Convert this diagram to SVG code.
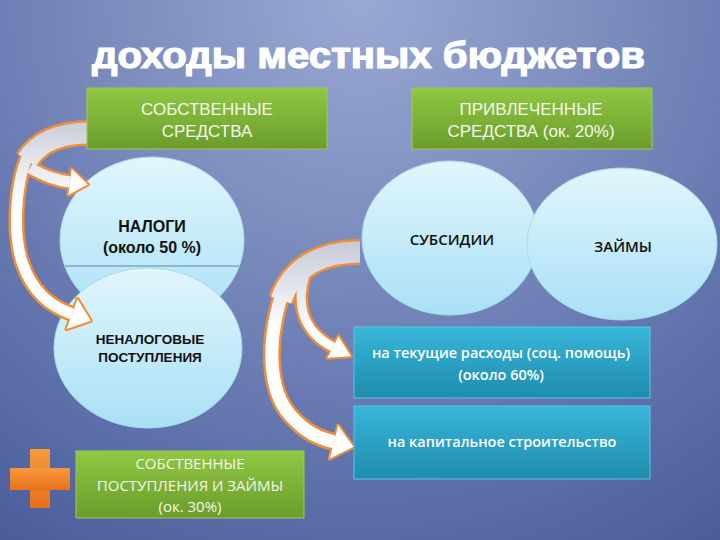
<svg xmlns="http://www.w3.org/2000/svg" width="720" height="540" viewBox="0 0 720 540">
<style>
.title{font-family:"Liberation Sans",Arial,sans-serif;font-weight:bold;font-size:36px;fill:#ffffff;stroke:#ffffff;stroke-width:1.2}
.gtxt{font-family:"Liberation Sans",Arial,sans-serif;font-size:17px;fill:#f4f8ec;text-anchor:middle}
.gtxt2{font-family:"Open Sans","Liberation Sans",sans-serif;font-size:15px;fill:#f2f7ea;text-anchor:middle}
.ctxt{font-family:"Liberation Sans",Arial,sans-serif;font-weight:bold;fill:#111111;text-anchor:middle}
.ctxt2{font-family:"Open Sans","Liberation Sans",sans-serif;font-weight:600;font-size:15px;fill:#111111;text-anchor:middle}
.ttxt{font-family:"Open Sans","Liberation Sans",sans-serif;font-weight:600;font-size:14.5px;fill:#ffffff;text-anchor:middle}
.gbox{fill:url(#green);stroke:#9ccb55;stroke-width:1}
.tbox{fill:url(#teal);stroke:#5cc6e6;stroke-width:1}
.circ{fill:url(#cyan);stroke:#a6dcef;stroke-width:1}
.ol{fill:none;stroke:#f08c3a;stroke-linecap:butt}
.olh{fill:#f08c3a;stroke:#f08c3a;stroke-width:4;stroke-linejoin:round}
</style>
<defs>
<radialGradient id="bg" cx="360" cy="0" r="640" gradientUnits="userSpaceOnUse">
<stop offset="0" stop-color="#9aa9d3"/>
<stop offset="1" stop-color="#4a5e9c"/>
</radialGradient>
<linearGradient id="green" x1="0" y1="0" x2="0" y2="1">
<stop offset="0" stop-color="#90c843"/>
<stop offset="1" stop-color="#6b9c2c"/>
</linearGradient>
<linearGradient id="teal" x1="0" y1="0" x2="0" y2="1">
<stop offset="0" stop-color="#38b6d9"/>
<stop offset="1" stop-color="#1f8cad"/>
</linearGradient>
<linearGradient id="cyan" x1="0" y1="0" x2="0" y2="1">
<stop offset="0" stop-color="#e2f6fc"/>
<stop offset="1" stop-color="#a9e0f6"/>
</linearGradient>
<linearGradient id="orange" x1="0" y1="0" x2="0" y2="1">
<stop offset="0" stop-color="#f69a3e"/>
<stop offset="1" stop-color="#e8701a"/>
</linearGradient>
<linearGradient id="fillL" x1="0" y1="120" x2="0" y2="200" gradientUnits="userSpaceOnUse">
<stop offset="0" stop-color="#c9ccd8"/>
<stop offset="1" stop-color="#ffffff"/>
</linearGradient>
<linearGradient id="fillR" x1="0" y1="245" x2="0" y2="330" gradientUnits="userSpaceOnUse">
<stop offset="0" stop-color="#c9ccd8"/>
<stop offset="1" stop-color="#ffffff"/>
</linearGradient>
</defs>

<rect x="0" y="0" width="720" height="540" fill="url(#bg)"/>

<text class="title" x="92" y="68" textLength="553" lengthAdjust="spacingAndGlyphs">доходы местных бюджетов</text>

<g id="node-nalogi">
<ellipse class="circ" cx="152" cy="240" rx="92" ry="83"/>
<line x1="65" y1="266" x2="239" y2="266" stroke="#5a8aa8" stroke-width="1"/>
<text class="ctxt" x="152" y="232" font-size="16">НАЛОГИ</text>
<text class="ctxt" x="152" y="253" font-size="16">(около 50 %)</text>
</g>
<g id="node-nenalog">
<ellipse class="circ" cx="148" cy="348" rx="94" ry="80"/>
<text class="ctxt" x="150" y="344" font-size="13.5">НЕНАЛОГОВЫЕ</text>
<text class="ctxt" x="150" y="362" font-size="13.5">ПОСТУПЛЕНИЯ</text>
</g>
<g id="node-subsidii">
<ellipse class="circ" cx="450" cy="238" rx="88" ry="77"/>
<text class="ctxt2" x="452" y="245">СУБСИДИИ</text>
</g>
<g id="node-zaimy">
<ellipse class="circ" cx="622" cy="244" rx="95" ry="76"/>
<text class="ctxt2" x="623" y="252">ЗАЙМЫ</text>
</g>

<g id="connectors">
<path class="ol" stroke-width="26" d="M95 133 C62 132 40 140 27 160"/>
<path class="ol" stroke-width="16" d="M31 150 C16 175 12 230 22 262 C32 292 50 306 72 314"/>
<path class="ol" stroke-width="16" d="M30 168 C45 176 55 180 70 182"/>
<polygon class="olh" points="66.5,329 77.5,299 90.8,320.8"/>
<polygon class="olh" points="68.3,194.9 71.7,169.1 87.8,184.4"/>
<path class="ol" stroke-width="26" d="M360 252 C320 252 292 268 281 300"/>
<path class="ol" stroke-width="18" d="M284 288 C266 340 268 390 290 415 C305 432 318 438 334 442"/>
<path class="ol" stroke-width="14" d="M306 272 C296 300 300 330 333 347"/>
<polygon class="olh" points="329.9,458.5 338.1,425.5 353.4,446.8"/>
<polygon class="olh" points="327.5,357.7 338.5,336.3 350.8,356.2"/>
<polygon fill="#ffffff" points="66.5,329 77.5,299 90.8,320.8"/>
<polygon fill="#ffffff" points="68.3,194.9 71.7,169.1 87.8,184.4"/>
<path fill="none" stroke="url(#fillL)" stroke-width="21" d="M95 133 C62 132 40 140 27 160"/>
<path fill="none" stroke="url(#fillL)" stroke-width="11" d="M31 150 C16 175 12 230 22 262 C32 292 50 306 72 314"/>
<path fill="none" stroke="url(#fillL)" stroke-width="11" d="M30 168 C45 176 55 180 70 182"/>
<polygon fill="#ffffff" points="329.9,458.5 338.1,425.5 353.4,446.8"/>
<polygon fill="#ffffff" points="327.5,357.7 338.5,336.3 350.8,356.2"/>
<path fill="none" stroke="url(#fillR)" stroke-width="21" d="M360 252 C320 252 292 268 281 300"/>
<path fill="none" stroke="url(#fillR)" stroke-width="13" d="M284 288 C266 340 268 390 290 415 C305 432 318 438 334 442"/>
<path fill="none" stroke="url(#fillR)" stroke-width="9" d="M306 272 C296 300 300 330 333 347"/>
</g>

<g id="node-sobstv">
<rect class="gbox" x="87" y="88" width="240" height="61"/>
<text class="gtxt" x="207" y="115">СОБСТВЕННЫЕ</text>
<text class="gtxt" x="207" y="137">СРЕДСТВА</text>
</g>
<g id="node-privl">
<rect class="gbox" x="412" y="88" width="240" height="61"/>
<text class="gtxt" x="531" y="115">ПРИВЛЕЧЕННЫЕ</text>
<text class="gtxt" x="531" y="137">СРЕДСТВА (ок. 20%)</text>
</g>
<g id="node-tekushchie">
<rect class="tbox" x="354" y="327" width="296" height="71"/>
<text class="ttxt" x="501" y="358">на текущие расходы (соц. помощь)</text>
<text class="ttxt" x="501" y="380">(около 60%)</text>
</g>
<g id="node-kapital">
<rect class="tbox" x="354" y="406" width="296" height="73"/>
<text class="ttxt" x="502" y="447">на капитальное строительство</text>
</g>
<g id="node-sobstv-post">
<rect class="gbox" x="76" y="451" width="228" height="67"/>
<text class="gtxt2" x="190" y="469">СОБСТВЕННЫЕ</text>
<text class="gtxt2" x="190" y="491">ПОСТУПЛЕНИЯ И ЗАЙМЫ</text>
<text class="gtxt2" x="190" y="512">(ок. 30%)</text>
</g>
<g id="plus">
<rect x="30" y="449" width="20" height="59" fill="url(#orange)"/>
<rect x="10" y="468" width="60" height="22" fill="url(#orange)"/>
</g>
</svg>
